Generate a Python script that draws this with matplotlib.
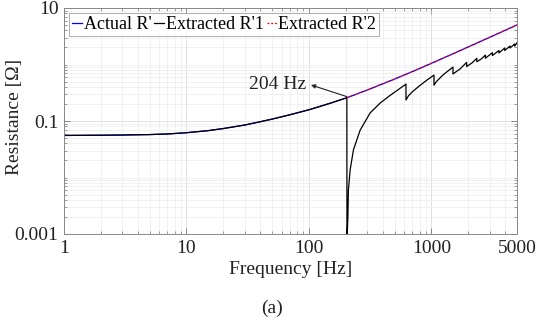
import matplotlib
matplotlib.use("Agg")
import matplotlib.pyplot as plt
from matplotlib.ticker import FixedLocator, NullFormatter

plt.rcParams['font.family'] = ['Liberation Serif', 'DejaVu Serif']

# Actual R' (Ohm) vs frequency (Hz)
freq_actual = [1, 2, 3, 5, 7, 10, 15, 20, 30, 40, 50, 70, 100, 150, 204,
               300, 500, 700, 1000, 1500, 2000, 3000, 5000]
r_actual = [0.0555, 0.056, 0.0565, 0.0575, 0.059, 0.062, 0.0675, 0.0735, 0.085, 0.097,
            0.108, 0.129, 0.158, 0.207, 0.258,
            0.354, 0.552, 0.750, 1.049, 1.548, 2.046, 3.038, 5.01]

# Extracted R'1 (sawtooth above 204 Hz)
freq_ext1 = [1, 2, 3, 5, 7, 10, 15, 20, 30, 40, 50, 70, 100, 150, 204,
             204.5, 206, 208, 210, 217, 231, 262, 316, 382, 453, 556, 620,
             620, 650, 700, 800, 920, 1050,
             1050, 1100, 1250, 1500,
             1500, 1720, 1940,
             1940, 2150, 2350,
             2350, 2550, 2760,
             2760, 3150,
             3150, 3560,
             3560, 3970,
             3970, 4380,
             4380, 4790,
             4790, 5000]
r_ext1 = [0.0555, 0.056, 0.0565, 0.0575, 0.059, 0.062, 0.0675, 0.0735, 0.085, 0.097,
          0.108, 0.129, 0.158, 0.207, 0.258,
          0.0004, 0.0012, 0.002, 0.006, 0.0136, 0.031, 0.069, 0.139, 0.208, 0.277, 0.38, 0.45,
          0.235, 0.28, 0.33, 0.42, 0.53, 0.65,
          0.43, 0.50, 0.66, 0.90,
          0.68, 0.84, 1.09,
          0.92, 1.07, 1.29,
          1.12, 1.25, 1.47,
          1.29, 1.62,
          1.44, 1.77,
          1.60, 1.96,
          1.77, 2.12,
          1.96, 2.31,
          2.12, 2.43]

# Extracted R'2 (matches actual above 204 Hz)
freq_ext2 = [204, 300, 500, 700, 1000, 1500, 2000, 3000, 5000]
r_ext2 = [0.258, 0.354, 0.552, 0.750, 1.049, 1.548, 2.046, 3.038, 5.01]

x_ticks = [1, 10, 100, 1000, 5000]
x_ticklabels = ['1', '10', '100', '1000', '5000']
y_ticks = [0.001, 0.1, 10]
y_ticklabels = ['0.001', '0.1', '10']

fig = plt.figure(figsize=(5.44, 3.26), dpi=100)
ax = fig.add_axes([64/544, 1-234/326, (517-64)/544, (234-8)/326])

ax.plot(freq_actual, r_actual, color='#0000ff', lw=0.9, label="Actual R'")
ax.plot(freq_ext1, r_ext1, color='black', lw=0.9, label="Extracted R'1")
ax.plot(freq_ext2, r_ext2, color='#ff0000', lw=0.9, ls=(0, (1.5, 1.5)), label="Extracted R'2")

ax.set_xscale('log')
ax.set_yscale('log')
ax.set_xlim(1, 5000)
ax.set_ylim(0.001, 10)

ax.xaxis.set_major_locator(FixedLocator(x_ticks))
ax.set_xticklabels(x_ticklabels)
xminor = [m * 10**k for k in range(0, 4) for m in range(2, 10) if m * 10**k < 5000]
ax.xaxis.set_minor_locator(FixedLocator(xminor))
ax.xaxis.set_minor_formatter(NullFormatter())

ax.yaxis.set_major_locator(FixedLocator(y_ticks))
ax.set_yticklabels(y_ticklabels)
yminor = [m * 10**k for k in range(-3, 1) for m in range(1, 10)]
yminor = [v for v in yminor if 0.001 < v < 10 and abs(v - 0.1) > 1e-9]
ax.yaxis.set_minor_locator(FixedLocator(yminor))
ax.yaxis.set_minor_formatter(NullFormatter())

ax.grid(True, which='major', color='#dcdcdc', lw=0.6)
ax.grid(True, which='minor', color='#ececec', lw=0.5)
ax.set_axisbelow(True)

ax.tick_params(which='both', direction='in', top=True, right=True, colors='#777777',
               labelcolor='#222222', labelsize=14)
ax.tick_params(which='major', length=4, width=0.6, pad=4)
ax.tick_params(which='minor', length=2, width=0.5)
for s in ax.spines.values():
    s.set_color('#888888')
    s.set_linewidth(0.7)

ax.set_xlabel('Frequency [Hz]', fontsize=14, color='#222222', labelpad=3)
ax.set_ylabel('Resistance [Ω]', fontsize=14, color='#222222')
ax.yaxis.set_label_coords((23 - 64) / 453, 0.52)

leg = ax.legend(loc='upper left', ncol=3, fontsize=13, frameon=True, fancybox=False,
                handlelength=0.55, handletextpad=0.1, columnspacing=0.15,
                borderpad=0.15, borderaxespad=0.3, edgecolor='#999999')
leg.get_frame().set_linewidth(0.7)

ax.text(95, 0.434, '204 Hz', fontsize=14, ha='right', va='center', color='#222222')
ax.annotate('', xy=(104, 0.434), xytext=(204, 0.27),
            arrowprops=dict(arrowstyle='-|>', color='#222222', lw=0.8,
                            mutation_scale=6, shrinkA=0, shrinkB=0))

fig.text(272/544, 1-308/326, '(a)', fontsize=14, ha='center', va='center', color='#222222')

fig.savefig('out.png', dpi=100)
